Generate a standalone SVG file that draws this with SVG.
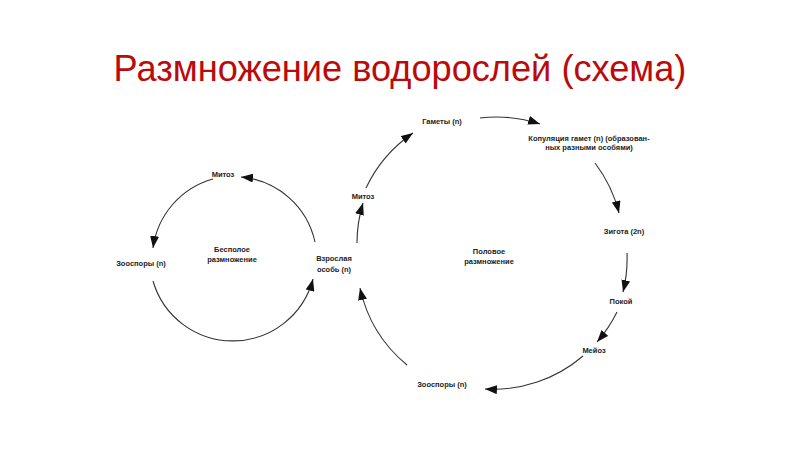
<svg xmlns="http://www.w3.org/2000/svg" width="800" height="450" viewBox="0 0 800 450">
<style>
.title{font-family:"Liberation Sans",Arial,sans-serif;font-size:36.2px;fill:#bb0a0a;text-anchor:middle}
.lbl{font-family:"Liberation Sans",Arial,sans-serif;font-size:7.5px;font-weight:bold;fill:#222;text-anchor:middle}
.arc{fill:none;stroke:#333;stroke-width:1.1;marker-end:url(#ah)}
</style>
<defs>
<marker id="ah" markerUnits="userSpaceOnUse" markerWidth="12" markerHeight="9" refX="12" refY="4.5" orient="auto">
<path d="M0,0 L12,4.5 L0,9 z" fill="#111"/>
</marker>
</defs>
<rect width="800" height="450" fill="#fff"/>
<text class="title" x="400" y="81">Размножение водорослей (схема)</text>
<g id="connectors">
<path class="arc" d="M315,242 A83,83 0 0 0 241,177"/>
<path class="arc" d="M213,179 A83,83 0 0 0 153,248"/>
<path class="arc" d="M153,281 A83,83 0 0 0 313,279"/>
<path class="arc" d="M407,365 A138,138 0 0 1 360,288"/>
<path class="arc" d="M357,243 A138,138 0 0 1 363,203"/>
<path class="arc" d="M366,188 A138,138 0 0 1 413,133"/>
<path class="arc" d="M480,118 A138,138 0 0 1 540,124"/>
<path class="arc" d="M595,163 A138,138 0 0 1 619,213"/>
<path class="arc" d="M627,253 A138,138 0 0 1 623,292"/>
<path class="arc" d="M617,312 A138,138 0 0 1 597,342"/>
<path class="arc" d="M583,356 A138,138 0 0 1 485,389"/>
</g>
<g id="mitoz-left"><text class="lbl" x="223" y="177">Митоз</text></g>
<g id="zoospores-left"><text class="lbl" x="141" y="266">Зооспоры (n)</text></g>
<g id="asexual"><text class="lbl" x="232" y="252">Бесполое</text><text class="lbl" x="232" y="262">размножение</text></g>
<g id="adult"><text class="lbl" x="334" y="261">Взрослая</text><text class="lbl" x="334" y="272">особь (n)</text></g>
<g id="mitoz-right"><text class="lbl" x="363" y="199">Митоз</text></g>
<g id="gametes"><text class="lbl" x="442" y="124">Гаметы (n)</text></g>
<g id="copulation"><text class="lbl" x="589" y="141">Копуляция гамет (n) (образован-</text><text class="lbl" x="589" y="150">ных разными особями)</text></g>
<g id="zygote"><text class="lbl" x="624" y="234">Зигота (2n)</text></g>
<g id="rest"><text class="lbl" x="621" y="304">Покой</text></g>
<g id="meiosis"><text class="lbl" x="594" y="353">Мейоз</text></g>
<g id="zoospores-right"><text class="lbl" x="442" y="387">Зооспоры (n)</text></g>
<g id="sexual"><text class="lbl" x="489" y="254">Половое</text><text class="lbl" x="489" y="264">размножение</text></g>
</svg>
